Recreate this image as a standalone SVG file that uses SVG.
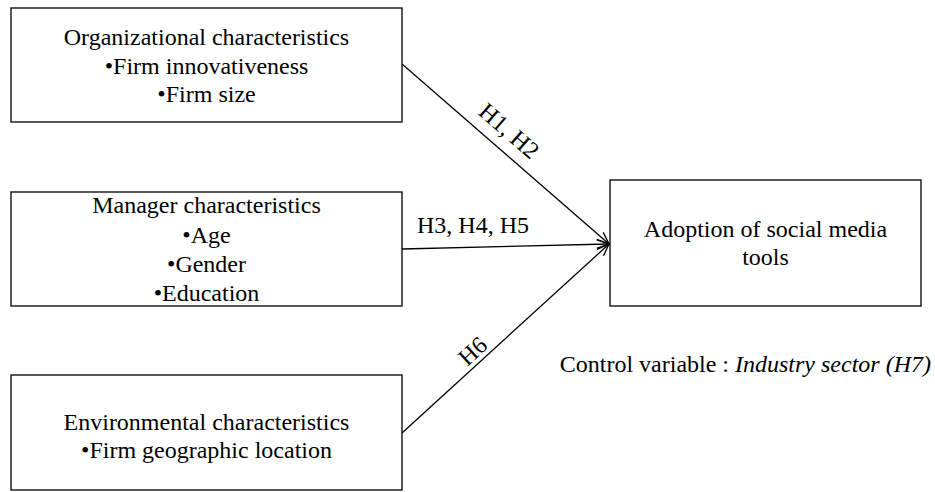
<svg xmlns="http://www.w3.org/2000/svg" width="935" height="492" viewBox="0 0 935 492">
<style>
.box{fill:#fff;stroke:#000;stroke-width:1.3}
.t{font-family:"Liberation Serif","Times New Roman",serif;font-size:24px;fill:#000;text-anchor:middle}
.c{stroke:#000;stroke-width:1.3;fill:none;marker-end:url(#ah)}
</style>
<defs>
<marker id="ah" viewBox="0 0 14 12" refX="13" refY="6" markerWidth="14" markerHeight="12" markerUnits="userSpaceOnUse" orient="auto">
<path d="M1,1 L13,6 L1,11" fill="none" stroke="#000" stroke-width="1.3"/>
</marker>
</defs>
<g id="org">
<rect class="box" x="11" y="8" width="391" height="114"/>
<text class="t" x="206.5" y="45">Organizational characteristics</text>
<text class="t" x="206.5" y="74">•Firm innovativeness</text>
<text class="t" x="206.5" y="102">•Firm size</text>
</g>
<g id="mgr">
<rect class="box" x="11" y="192" width="391" height="114"/>
<text class="t" x="206.5" y="213">Manager characteristics</text>
<text class="t" x="206.5" y="243">•Age</text>
<text class="t" x="206.5" y="272">•Gender</text>
<text class="t" x="206.5" y="301">•Education</text>
</g>
<g id="env">
<rect class="box" x="11" y="375" width="391" height="115"/>
<text class="t" x="206.5" y="430">Environmental characteristics</text>
<text class="t" x="206.5" y="458">•Firm geographic location</text>
</g>
<g id="adopt">
<rect class="box" x="610" y="180" width="311" height="126"/>
<text class="t" x="765.5" y="237">Adoption of social media</text>
<text class="t" x="765.5" y="265">tools</text>
</g>
<g id="control">
<text class="t" x="931" y="372" style="text-anchor:end">Control variable : <tspan font-style="italic">Industry sector (H7)</tspan></text>
</g>
<g id="connectors">
<line class="c" x1="402" y1="64" x2="609" y2="244"/>
<line class="c" x1="402" y1="249" x2="609" y2="244"/>
<line class="c" x1="402" y1="433" x2="609" y2="244"/>
<text class="t" x="473" y="233">H3, H4, H5</text>
<text class="t" transform="translate(504,137) rotate(41)">H1, H2</text>
<text class="t" transform="translate(478,357) rotate(-42.4)">H6</text>
</g>
</svg>
